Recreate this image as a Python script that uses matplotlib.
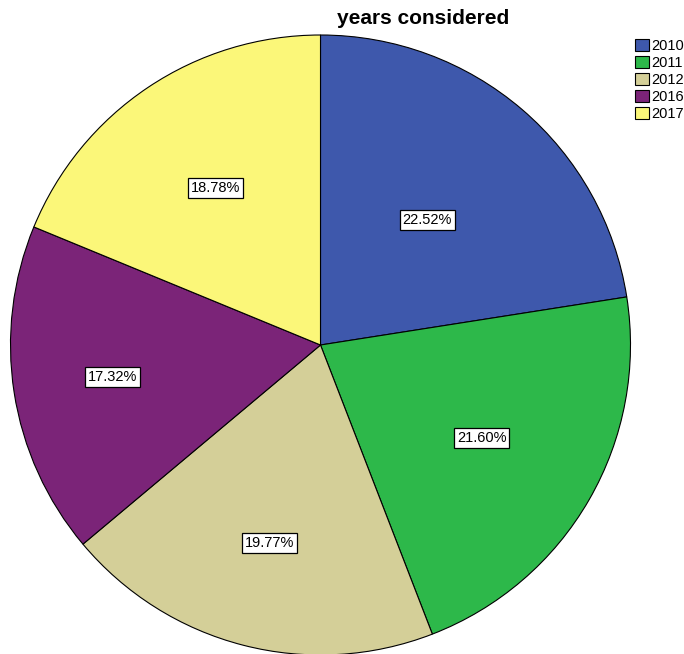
import numpy as np
import matplotlib.pyplot as plt
from matplotlib.patches import Patch

plt.rcParams['font.family'] = ['Liberation Sans', 'DejaVu Sans']

years = ['2010', '2011', '2012', '2016', '2017']
shares = [22.52, 21.60, 19.77, 17.32, 18.78]
colors = ['#3e58ac', '#2db84a', '#d4cf98', '#7b2478', '#fbf779']

W, H = 684, 654
fig = plt.figure(figsize=(W / 100, H / 100), dpi=100)

# pie centre / radius in pixels
cx, cy, r = 320.5, 345, 310
ax = fig.add_axes([(cx - r) / W, (H - cy - r) / H, 2 * r / W, 2 * r / H])

wedges, _ = ax.pie(shares, colors=colors, startangle=90, counterclock=False,
                   wedgeprops=dict(edgecolor='black', linewidth=0.8))
ax.set_xlim(-1, 1)
ax.set_ylim(-1, 1)
ax.set_aspect('equal')
ax.axis('off')

# label distances differ per slice in the original
label_r = [0.53, 0.60, 0.66, 0.68, 0.61]
for w, v, d in zip(wedges, shares, label_r):
    ang = np.deg2rad((w.theta1 + w.theta2) / 2)
    ax.text(d * np.cos(ang), d * np.sin(ang), f'{v:.2f}%', ha='center', va='center',
            fontsize=10.5, bbox=dict(boxstyle='square,pad=0.2', fc='white', ec='black', lw=0.9))

fig.text(423 / W, 1 - 18 / H, 'years considered', ha='center', va='center',
         fontsize=15, fontweight='bold')

handles = [Patch(facecolor=c, edgecolor='black', linewidth=0.8) for c in colors]
fig.legend(handles, years, loc='upper left', bbox_to_anchor=(635 / W, 1 - 39 / H),
           frameon=False, fontsize=10.5, handlelength=0.95, handleheight=0.9,
           handletextpad=0.15, labelspacing=0.2, borderpad=0, borderaxespad=0)

fig.savefig('out.png', dpi=100)
